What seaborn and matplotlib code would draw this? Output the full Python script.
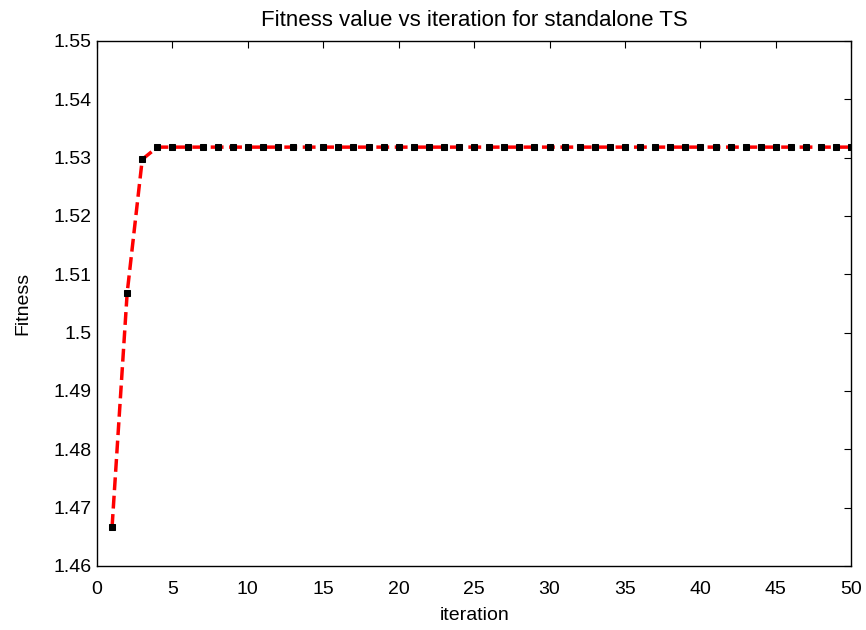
import numpy as np
import pandas as pd
import seaborn as sns
import matplotlib
matplotlib.use('Agg')
import matplotlib.pyplot as plt

# 数据
iteration = list(range(1, 51))
fitness = [1.4667, 1.5068, 1.5297] + [1.5318] * 47
ytick_labels = ['1.46', '1.47', '1.48', '1.49', '1.5', '1.51', '1.52', '1.53', '1.54', '1.55']

df = pd.DataFrame({'iteration': iteration, 'Fitness': fitness})

sns.set_style('white')
plt.rcParams['font.family'] = ['Liberation Sans', 'DejaVu Sans']
plt.rcParams['text.color'] = 'black'
plt.rcParams['axes.labelcolor'] = 'black'

fig = plt.figure(figsize=(8.66, 6.3), dpi=100)
ax = fig.add_axes([0.112, 0.1016, 0.871, 0.8334])

sns.lineplot(data=df, x='iteration', y='Fitness', ax=ax, color='red',
             linestyle='--', linewidth=2.5, marker='s', markersize=5,
             markerfacecolor='black', markeredgecolor='black')

ax.set_xlim(0, 50)
ax.set_ylim(1.46, 1.55)
ax.set_xticks(np.arange(0, 51, 5))
ax.set_yticks(np.arange(1.46, 1.5501, 0.01))
ax.set_yticklabels(ytick_labels)
ax.tick_params(direction='in', top=True, right=True, length=5, width=0.8,
               labelsize=14, colors='black')
ax.tick_params(axis='x', pad=11)
ax.tick_params(axis='y', pad=4)
for s in ax.spines.values():
    s.set_color('black')
    s.set_linewidth(1.0)

ax.set_xlabel('iteration', fontsize=14, labelpad=6, color='black')
ax.set_ylabel('Fitness', fontsize=14, labelpad=16, color='black')
ax.set_title('Fitness value vs iteration for standalone TS', fontsize=16, pad=11, color='black')

fig.savefig('out.png', dpi=100)
